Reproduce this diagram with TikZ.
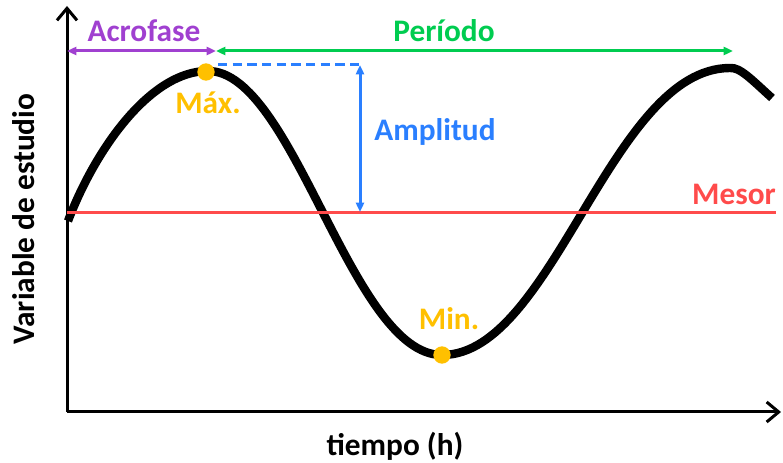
\documentclass[tikz,border=0pt]{standalone}
\usepackage{fontspec}
\setmainfont{Carlito}
\usetikzlibrary{arrows.meta}
\definecolor{acro}{HTML}{A040D0}
\definecolor{peri}{HTML}{00CC50}
\definecolor{ampl}{HTML}{2A7FFF}
\definecolor{meso}{HTML}{FF4B4B}
\definecolor{extr}{HTML}{FFC000}
\begin{document}
\begin{tikzpicture}[x=0.75pt,y=-0.75pt,
  lbl/.style={font=\bfseries\fontsize{23.5}{28}\selectfont, inner sep=0pt, anchor=base},
  axisline/.style={line width=2.25pt, -{Straight Barb[length=9pt,width=15pt]}},
  dimline/.style={line width=2.25pt, {Triangle[length=7pt,width=6pt]}-{Triangle[length=7pt,width=6pt]}},
  dot/.style={circle, fill=extr, inner sep=0pt, minimum size=13pt}]
\useasboundingbox (0,0) rectangle (783,463);
% axes
\coordinate (O) at (67,412);
\coordinate (ytop) at (67,6);
\coordinate (xend) at (781,412);
\draw[axisline] (O) -- (ytop);
\draw[axisline] (O) -- (xend);
% curve
\draw[line width=6.3pt, line join=round]
  (68,221) .. controls (95,150) and (150,71) .. (208,71)
  .. controls (294,71) and (351,355) .. (442,355)
  .. controls (553,355) and (611,68) .. (730,68)
  .. controls (740,67) and (752,80) .. (772,98);
% mesor
\coordinate (m0) at (67,213);
\coordinate (m1) at (776,213);
\draw[meso, line width=2.25pt] (m0) -- (m1);
\node[lbl, text=meso] (mesor) at (734,205) {Mesor};
% extrema
\node[dot] (max) at (206,72) {};
\node[dot] (min) at (442,355) {};
\node[lbl, text=extr] (maxl) at (208,114) {Máx.};
\node[lbl, text=extr] (minl) at (449,330) {Min.};
% acrofase and period
\coordinate (a0) at (67,51);
\coordinate (a1) at (216,51);
\coordinate (p1) at (733,51);
\draw[dimline, acro] (a0) -- (a1);
\draw[dimline, peri] (a1) -- (p1);
\node[lbl, text=acro] (acrol) at (144,42) {Acrofase};
\node[lbl, text=peri] (peril) at (444,42) {Período};
% amplitude
\coordinate (d0) at (218,65);
\coordinate (d1) at (360,65);
\coordinate (d2) at (360,212);
\draw[ampl, line width=2.25pt, dash pattern=on 7pt off 4pt] (d0) -- (d1);
\draw[dimline, ampl] (d1) -- (d2);
\node[lbl, text=ampl] (ampll) at (435,141) {Amplitud};
% axis labels
\node[lbl] (xl) at (395,456) {tiempo (h)};
\node[lbl, rotate=90] (yl) at (35,219) {Variable de estudio};
\end{tikzpicture}
\end{document}
